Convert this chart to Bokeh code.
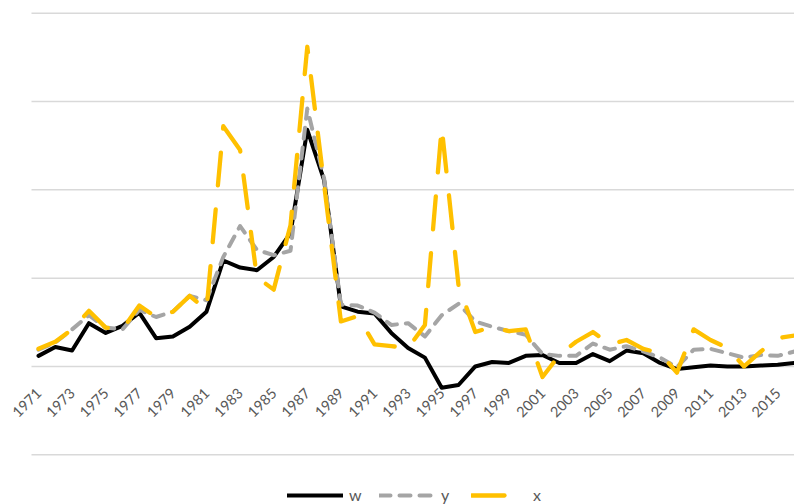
import math
from bokeh.plotting import figure
from bokeh.models import Range1d, FixedTicker, Legend, LegendItem, ColumnDataSource
from bokeh.embed import file_html
from bokeh.resources import INLINE

years = list(range(1971, 2017))
tick_years = list(range(1971, 2016, 2))
grid_values = [-1, 0, 1, 2, 3, 4]

w = [0.12, 0.22, 0.18, 0.49, 0.38, 0.46, 0.61, 0.32, 0.34, 0.45,
     0.62, 1.20, 1.12, 1.09, 1.24, 1.51, 2.68, 2.11, 0.68, 0.62,
     0.60, 0.38, 0.21, 0.10, -0.24, -0.21, 0.00, 0.05, 0.04, 0.12,
     0.13, 0.04, 0.04, 0.14, 0.06, 0.18, 0.15, 0.04, -0.03, -0.01,
     0.01, 0.00, 0.00, 0.01, 0.02, 0.04]
y = [0.19, 0.27, 0.42, 0.58, 0.44, 0.42, 0.64, 0.56, 0.62, 0.80,
     0.75, 1.24, 1.59, 1.32, 1.26, 1.31, 2.92, 2.13, 0.70, 0.69,
     0.61, 0.47, 0.49, 0.34, 0.58, 0.71, 0.51, 0.45, 0.40, 0.36,
     0.14, 0.12, 0.12, 0.26, 0.19, 0.23, 0.17, 0.10, -0.01, 0.19,
     0.20, 0.15, 0.10, 0.13, 0.12, 0.17]
x = [0.20, 0.28, 0.42, 0.63, 0.44, 0.42, 0.69, 0.56, 0.62, 0.80,
     0.64, 2.72, 2.45, 1.01, 0.87, 1.60, 3.62, 2.06, 0.51, 0.57,
     0.25, 0.23, 0.21, 0.47, 2.71, 0.92, 0.39, 0.45, 0.40, 0.42,
     -0.12, 0.13, 0.28, 0.39, 0.25, 0.30, 0.20, 0.15, -0.07, 0.42,
     0.30, 0.21, 0.00, 0.17, 0.32, 0.35]

W, H = 794, 504
x_start, x_lo, x_hi = 1968.738, 1970.583, 2016.0
y_lo, y_hi = -1.563, 4.144
px_y = (y_hi - y_lo) / H          # data units per screen pixel (vertical)
label_drop_px = 24                # labels hang this far below the zero line

p = figure(width=W, height=H, output_backend="svg", toolbar_location=None,
           x_range=Range1d(x_start, x_hi), y_range=Range1d(y_lo, y_hi),
           min_border_left=0, min_border_right=0, min_border_top=0,
           min_border_bottom=0)
p.outline_line_color = None
p.background_fill_color = "white"
p.border_fill_color = "white"

p.yaxis.visible = False
p.xgrid.visible = False
p.ygrid.visible = False

# horizontal gridlines spanning the plot area only
p.segment(x0=[x_lo] * len(grid_values), x1=[x_hi] * len(grid_values),
          y0=grid_values, y1=grid_values, line_color="#D9D9D9", line_width=1.5)

ax = p.xaxis[0]
ax.fixed_location = 0
ax.ticker = FixedTicker(ticks=tick_years)
ax.axis_line_color = None
ax.major_tick_line_color = None
ax.minor_tick_line_color = None
ax.major_label_text_font_size = "0px"
ax.major_label_text_alpha = 0

lbl_src = ColumnDataSource(dict(x=tick_years,
                                y=[-label_drop_px * px_y] * len(tick_years),
                                t=[str(v) for v in tick_years]))
p.text(x="x", y="y", text="t", source=lbl_src, angle=math.pi / 4,
       text_align="right", text_baseline="middle",
       text_color="#595959", text_font={"value": "Lato"},
       text_font_size="14.5px")

r_w = p.line(years, w, line_color="#000000", line_width=4, line_join="round",
             line_cap="round")
r_y = p.line(years, y, line_color="#A5A5A5", line_width=4, line_join="round",
             line_cap="round", line_dash="11 9")
r_x = p.line(years, x, line_color="#FFC000", line_width=4.3, line_join="round",
             line_cap="round", line_dash="33 24")

legend = Legend(items=[LegendItem(label="w", renderers=[r_w]),
                       LegendItem(label="y", renderers=[r_y]),
                       LegendItem(label="x", renderers=[r_x])],
                orientation="horizontal", location=(287, 0),
                glyph_width=56, glyph_height=14, label_height=14,
                label_width=20, label_standoff=6, spacing=10,
                padding=0, margin=0, border_line_color=None,
                background_fill_alpha=0,
                label_text_font="Lato", label_text_font_size="16px",
                label_text_color="#595959")
p.add_layout(legend, "center")

open("out.html", "w").write(file_html(p, INLINE))
